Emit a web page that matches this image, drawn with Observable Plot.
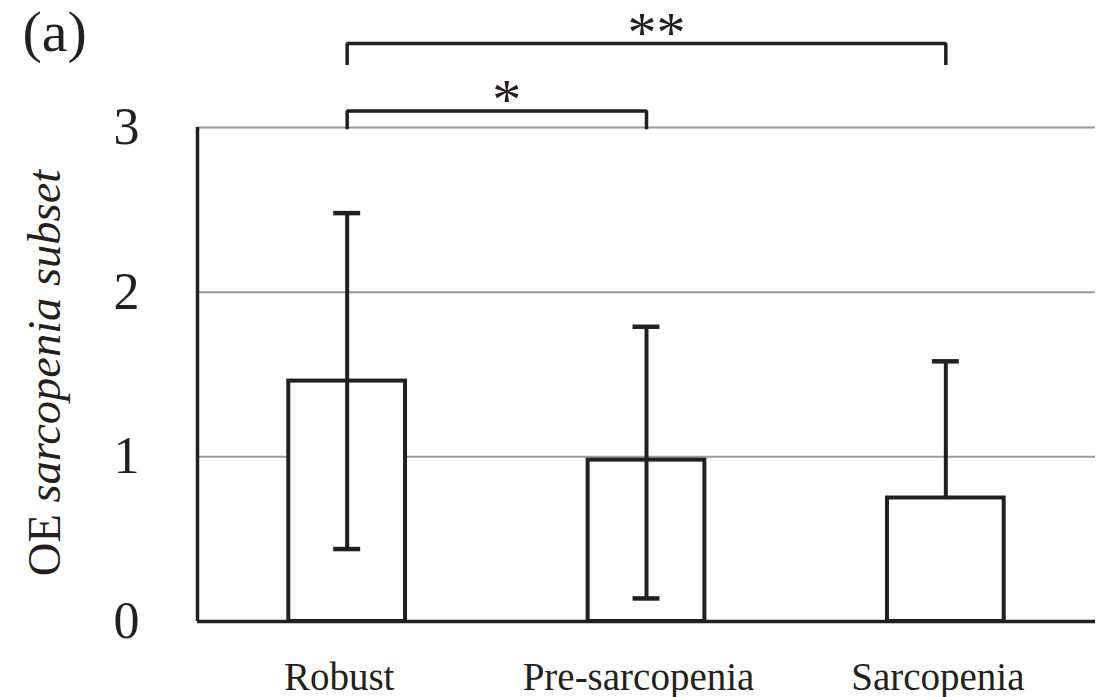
<!DOCTYPE html>
<html>
<head>
<meta charset="utf-8">
<script src="https://cdn.jsdelivr.net/npm/d3@7"></script>
<script src="https://cdn.jsdelivr.net/npm/@observablehq/plot@0.6"></script>
<style>
  html, body { margin: 0; padding: 0; background: #fff; }
  #chart svg { display: block; }
</style>
</head>
<body>
<div id="chart"></div>
<script>
// Data
const categories = ["Robust", "Pre-sarcopenia", "Sarcopenia"];
const means      = [1.46, 0.98, 0.75];
const upperErr   = [2.48, 1.79, 1.58];
const lowerErr   = [0.44, 0.14, null];
const yTicks     = [0, 1, 2, 3];
const gridTicks  = [1, 2, 3];
// significance brackets: from index, to index, label, bracket level, foot level
const sigFrom    = [0, 0];
const sigTo      = [1, 2];
const sigLabel   = ["*", "**"];
const sigLevel   = [3.10, 3.51];
const sigFoot    = [3.00, 3.39];
const panelLabel = "(a)";

const ink = "#231f20";
const font = "'Liberation Serif', 'Times New Roman', Times, serif";

const rows = categories.map((c, i) => ({
  i, c, mean: means[i], hi: upperErr[i], lo: lowerErr[i]
}));
const halfBar = 0.195;
const halfCap = 0.045;

const bracketPts = [];
sigFrom.forEach((f, k) => {
  const t = sigTo[k];
  bracketPts.push({k, x: f, y: sigFoot[k]});
  bracketPts.push({k, x: f, y: sigLevel[k]});
  bracketPts.push({k, x: t, y: sigLevel[k]});
  bracketPts.push({k, x: t, y: sigFoot[k]});
});
const stars = sigFrom.map((f, k) => ({x: (f + sigTo[k]) / 2, y: sigLevel[k], label: sigLabel[k]}));

const plot = Plot.plot({
  width: 1112,
  height: 697,
  marginLeft: 197,
  marginRight: 17,
  marginTop: 127,
  marginBottom: 76,
  style: {fontFamily: font, background: "#fff", color: ink},
  x: {domain: [-0.5, 2.5], axis: null},
  y: {domain: [0, 3], axis: null},
  marks: [
    Plot.ruleY(gridTicks, {stroke: "#9a9a9a", strokeWidth: 2}),
    Plot.rectY(rows, {
      x1: d => d.i - halfBar, x2: d => d.i + halfBar, y1: 0, y2: "mean",
      fill: "#fff", stroke: ink, strokeWidth: 4
    }),
    Plot.ruleX(rows, {x: "i", y1: d => d.lo ?? d.mean, y2: "hi", stroke: ink, strokeWidth: 4}),
    Plot.ruleY(rows, {y: "hi", x1: d => d.i - halfCap, x2: d => d.i + halfCap, stroke: ink, strokeWidth: 4.5}),
    Plot.ruleY(rows.filter(d => d.lo != null), {y: "lo", x1: d => d.i - halfCap, x2: d => d.i + halfCap, stroke: ink, strokeWidth: 4.5}),
    Plot.ruleY([0], {stroke: ink, strokeWidth: 3.5}),
    Plot.ruleX([-0.5], {y1: 0, y2: 3, stroke: ink, strokeWidth: 3.5}),
    Plot.line(bracketPts, {x: "x", y: "y", z: "k", stroke: ink, strokeWidth: 3.5, strokeLinejoin: "miter", strokeLinecap: "square"}),
    Plot.text(stars, {x: "x", y: "y", text: "label", dx: 10, dy: -10.5, fontSize: 58, fill: ink, lineAnchor: "middle"}),
    Plot.axisY(yTicks, {tickSize: 0, tickPadding: 58, fontSize: 52, fill: ink, label: null, tickFormat: d3.format("d")}),
    Plot.axisX([0, 1, 2], {tickSize: 0, tickPadding: 41, fontSize: 39, fill: ink, label: null, dx: -8, tickFormat: i => categories[i]}),
    Plot.text([panelLabel], {frameAnchor: "top-left", dx: -175, dy: -77, textAnchor: "start", lineAnchor: "bottom", fontSize: 58, fill: ink})
  ]
});

document.getElementById("chart").appendChild(plot);

// y-axis title with italic part
const svg = d3.select(plot);
const t = svg.append("text")
  .attr("transform", "translate(60,373) rotate(-90)")
  .attr("text-anchor", "middle")
  .attr("font-family", font)
  .attr("font-size", 46.5)
  .attr("fill", ink);
t.append("tspan").text("OE ");
t.append("tspan").attr("font-style", "italic").text("sarcopenia subset");
</script>
</body>
</html>
